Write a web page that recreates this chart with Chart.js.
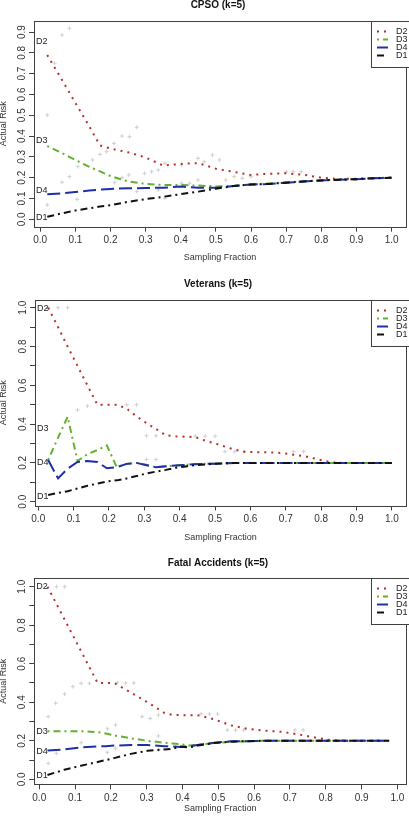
<!DOCTYPE html>
<html>
<head>
<meta charset="utf-8">
<script src="https://cdn.jsdelivr.net/npm/chart.js@4.4.1/dist/chart.umd.min.js"></script>
<style>
  html, body { margin: 0; padding: 0; background: #fff; width: 409px; height: 820px; overflow: hidden; }
  canvas { position: absolute; left: 0; }
</style>
</head>
<body>
<canvas id="cpso" width="411" height="270" style="top:0px"></canvas>
<canvas id="vet" width="411" height="275" style="top:270px"></canvas>
<canvas id="fatal" width="411" height="280" style="top:540px"></canvas>
<script>
// values: sampling fraction vs actual risk
const xTicks = [0, 0.1, 0.2, 0.3, 0.4, 0.5, 0.6, 0.7, 0.8, 0.9, 1.0];
const xTickLabels = ["0.0", "0.1", "0.2", "0.3", "0.4", "0.5", "0.6", "0.7", "0.8", "0.9", "1.0"];
const yTicks = [0, 0.1, 0.2, 0.3, 0.4, 0.5, 0.6, 0.7, 0.8, 0.9, 1.0];
const cpsoYLabels = ["0.0", "0.1", "0.2", "0.3", "0.4", "0.5", "0.6", "0.7", "0.8", "0.9"];
const wideYLabels = ["0.0", "", "0.2", "", "0.4", "", "0.6", "", "0.8", "", "1.0"];
const seriesNames = ["D2", "D3", "D4", "D1"];

// CPSO (k=5)
const cpsoX  = [0.02, 0.06, 0.10, 0.14, 0.17, 0.20, 0.25, 0.30, 0.35, 0.40, 0.45, 0.50, 0.55, 0.60, 0.65, 0.70, 0.75, 0.80, 0.85, 0.90, 0.95, 1.00];
const cpsoD2 = [0.79, 0.675, 0.56, 0.445, 0.355, 0.34, 0.322, 0.297, 0.258, 0.266, 0.27, 0.243, 0.228, 0.213, 0.219, 0.221, 0.214, 0.2, 0.194, 0.195, 0.198, 0.2];
const cpsoD3 = [0.352, 0.32, 0.285, 0.252, 0.23, 0.208, 0.182, 0.17, 0.165, 0.165, 0.162, 0.158, 0.16, 0.168, 0.172, 0.178, 0.183, 0.188, 0.19, 0.193, 0.197, 0.2];
const cpsoD4 = [0.12, 0.124, 0.131, 0.138, 0.143, 0.146, 0.149, 0.15, 0.152, 0.157, 0.152, 0.151, 0.16, 0.167, 0.17, 0.176, 0.182, 0.187, 0.19, 0.193, 0.197, 0.2];
const cpsoD1 = [0.012, 0.028, 0.042, 0.053, 0.061, 0.068, 0.084, 0.097, 0.108, 0.121, 0.133, 0.147, 0.16, 0.167, 0.17, 0.176, 0.182, 0.187, 0.19, 0.193, 0.197, 0.2];
const cpsoGrayX = [0.02, 0.041, 0.062, 0.083, 0.02, 0.062, 0.083, 0.107, 0.149, 0.17, 0.189, 0.21, 0.233, 0.254, 0.275, 0.105, 0.212, 0.233, 0.252, 0.275, 0.297, 0.317, 0.336, 0.336, 0.355, 0.355, 0.402, 0.402, 0.425, 0.449, 0.449, 0.467, 0.49, 0.51, 0.528, 0.552, 0.575, 0.6, 0.701, 0.72, 0.743];
const cpsoGrayY = [0.501, 0.75, 0.886, 0.918, 0.069, 0.178, 0.205, 0.253, 0.285, 0.312, 0.325, 0.365, 0.4, 0.397, 0.442, 0.096, 0.176, 0.2, 0.213, 0.133, 0.221, 0.229, 0.237, 0.141, 0.101, 0.269, 0.261, 0.173, 0.173, 0.293, 0.189, 0.277, 0.309, 0.285, 0.189, 0.205, 0.197, 0.205, 0.229, 0.229, 0.229];

// Veterans (k=5)
const vetX  = [0.028, 0.056, 0.083, 0.111, 0.139, 0.167, 0.194, 0.222, 0.25, 0.278, 0.306, 0.333, 0.361, 0.389, 0.417, 0.444, 0.472, 0.5, 0.528, 0.556, 0.583, 0.611, 0.639, 0.667, 0.694, 0.722, 0.75, 0.778, 0.806, 0.833, 0.861, 0.889, 0.917, 0.944, 0.972, 1.0];
const vetD2 = [1.0, 0.9, 0.8, 0.7, 0.6, 0.5, 0.5, 0.5, 0.48, 0.44, 0.405, 0.375, 0.342, 0.337, 0.335, 0.333, 0.315, 0.3, 0.284, 0.268, 0.258, 0.255, 0.255, 0.253, 0.25, 0.242, 0.236, 0.224, 0.212, 0.202, 0.2, 0.2, 0.2, 0.2, 0.2, 0.2];
const vetD3 = [0.215, 0.33, 0.438, 0.21, 0.245, 0.266, 0.29, 0.178, 0.195, 0.2, 0.19, 0.178, 0.183, 0.187, 0.19, 0.194, 0.195, 0.196, 0.198, 0.2, 0.2, 0.2, 0.2, 0.2, 0.2, 0.2, 0.2, 0.2, 0.2, 0.2, 0.2, 0.2, 0.2, 0.2, 0.2, 0.2];
const vetD4 = [0.215, 0.12, 0.17, 0.205, 0.21, 0.205, 0.172, 0.178, 0.195, 0.2, 0.188, 0.177, 0.183, 0.186, 0.19, 0.193, 0.195, 0.196, 0.198, 0.2, 0.2, 0.2, 0.2, 0.2, 0.2, 0.2, 0.2, 0.2, 0.2, 0.2, 0.2, 0.2, 0.2, 0.2, 0.2, 0.2];
const vetD1 = [0.035, 0.045, 0.054, 0.068, 0.082, 0.093, 0.104, 0.11, 0.12, 0.132, 0.146, 0.155, 0.164, 0.175, 0.182, 0.188, 0.192, 0.195, 0.198, 0.2, 0.2, 0.2, 0.2, 0.2, 0.2, 0.2, 0.2, 0.2, 0.2, 0.2, 0.2, 0.2, 0.2, 0.2, 0.2, 0.2];
const vetGrayX = [0.028, 0.056, 0.083, 0.111, 0.139, 0.25, 0.278, 0.306, 0.333, 0.306, 0.333, 0.444, 0.472, 0.5, 0.528, 0.556, 0.583, 0.722, 0.75];
const vetGrayY = [1.0, 1.0, 1.0, 0.473, 0.493, 0.5, 0.5, 0.34, 0.34, 0.218, 0.218, 0.338, 0.338, 0.338, 0.258, 0.258, 0.258, 0.258, 0.258];

// Fatal Accidents (k=5)
const fatalX  = [0.023, 0.07, 0.116, 0.163, 0.186, 0.209, 0.256, 0.302, 0.349, 0.372, 0.395, 0.419, 0.442, 0.488, 0.535, 0.581, 0.628, 0.674, 0.721, 0.767, 0.814, 0.86, 0.907, 0.953, 0.977];
const fatalD2 = [1.0, 0.832, 0.668, 0.5, 0.5, 0.5, 0.45, 0.4, 0.345, 0.334, 0.333, 0.333, 0.333, 0.312, 0.28, 0.262, 0.253, 0.247, 0.234, 0.218, 0.203, 0.2, 0.2, 0.2, 0.2];
const fatalD3 = [0.25, 0.25, 0.25, 0.245, 0.238, 0.228, 0.213, 0.2, 0.19, 0.186, 0.182, 0.176, 0.178, 0.188, 0.195, 0.198, 0.2, 0.2, 0.2, 0.2, 0.2, 0.2, 0.2, 0.2, 0.2];
const fatalD4 = [0.149, 0.155, 0.165, 0.171, 0.172, 0.175, 0.178, 0.178, 0.172, 0.17, 0.168, 0.172, 0.178, 0.19, 0.197, 0.198, 0.2, 0.2, 0.2, 0.2, 0.2, 0.2, 0.2, 0.2, 0.2];
const fatalD1 = [0.022, 0.05, 0.07, 0.09, 0.1, 0.11, 0.132, 0.148, 0.155, 0.158, 0.17, 0.165, 0.175, 0.188, 0.195, 0.198, 0.2, 0.2, 0.2, 0.2, 0.2, 0.2, 0.2, 0.2, 0.2];
const fatalGrayX = [0.048, 0.071, 0.025, 0.046, 0.071, 0.094, 0.117, 0.14, 0.218, 0.241, 0.264, 0.287, 0.31, 0.333, 0.452, 0.475, 0.498, 0.525, 0.548, 0.571, 0.714, 0.737, 0.025, 0.048, 0.117, 0.19, 0.19, 0.213, 0.213, 0.333, 0.333];
const fatalGrayY = [1.0, 1.0, 0.325, 0.395, 0.443, 0.481, 0.498, 0.498, 0.502, 0.5, 0.5, 0.325, 0.316, 0.334, 0.339, 0.339, 0.339, 0.256, 0.256, 0.256, 0.256, 0.256, 0.083, 0.135, 0.19, 0.14, 0.262, 0.161, 0.282, 0.225, 0.152];

const FONT = '"Liberation Sans", Arial, Helvetica, sans-serif';
const styles = [
  { color: "#b3302a", dash: [2, 5] },        // D2 dotted
  { color: "#63b030", dash: [2, 4, 7, 4] },  // D3 dot-dash
  { color: "#1f2fa8", dash: [13, 5] },       // D4 long dash
  { color: "#111111", dash: [7, 4, 2, 4] }   // D1 dash-dot
];

// frame box, main title, D-tags next to the lines, legend box
const framePlugin = {
  id: "frame",
  afterDraw(chart, args, opts) {
    const { ctx, chartArea: a, scales } = chart;
    ctx.save();
    ctx.strokeStyle = "#404040";
    ctx.lineWidth = 1;
    ctx.strokeRect(Math.round(a.left) + 0.5, Math.round(a.top) + 0.5,
      Math.round(a.right) - Math.round(a.left), Math.round(a.bottom) - Math.round(a.top));

    ctx.fillStyle = "#111";
    ctx.font = "bold 10px " + FONT;
    ctx.textAlign = "center";
    ctx.textBaseline = "middle";
    ctx.fillText(opts.title, opts.titleX, opts.titleY);

    ctx.font = "9px " + FONT;
    ctx.textAlign = "left";
    ctx.fillStyle = "#222";
    opts.tags.forEach((v, i) => {
      ctx.fillText(seriesNames[i], a.left + 2, scales.y.getPixelForValue(v));
    });

    // legend
    const lx = 371, ly = Math.round(a.top) + 0.5;
    ctx.fillStyle = "#fff";
    ctx.fillRect(lx, ly, 60, 46);
    ctx.strokeStyle = "#404040";
    ctx.strokeRect(lx + 0.5, ly, 60, 46);
    chart.data.datasets.slice(0, 4).forEach((ds, i) => {
      const ry = ly + 10 + i * 8;
      ctx.strokeStyle = ds.borderColor;
      ctx.lineWidth = 2;
      ctx.setLineDash(ds.borderDash);
      ctx.beginPath();
      ctx.moveTo(377, ry);
      ctx.lineTo(388, ry);
      ctx.stroke();
      ctx.setLineDash([]);
      ctx.fillStyle = "#222";
      ctx.fillText(ds.label, 396, ry);
    });
    ctx.restore();
  }
};

function makePanel(id, p) {
  const lines = [p.d2, p.d3, p.d4, p.d1].map((vals, i) => ({
    label: seriesNames[i],
    data: p.xs.map((x, j) => ({ x: x, y: vals[j] })),
    showLine: true,
    borderColor: styles[i].color,
    borderDash: styles[i].dash,
    borderWidth: 2,
    pointRadius: 0,
    tension: 0,
    order: 4 - i
  }));
  const gray = {
    label: "samples",
    data: p.gx.map((x, j) => ({ x: x, y: p.gy[j] })),
    showLine: false,
    pointStyle: "cross",
    pointRadius: 2,
    borderColor: "#cfcfcf",
    borderWidth: 1,
    order: 10
  };

  new Chart(document.getElementById(id), {
    type: "scatter",
    data: { datasets: lines.concat([gray]) },
    options: {
      responsive: false,
      animation: false,
      devicePixelRatio: 1,
      layout: { padding: { top: p.padTop, left: 0, right: 0, bottom: 0 } },
      plugins: {
        legend: { display: false },
        tooltip: { enabled: false },
        frame: { title: p.title, titleX: 218, titleY: p.titleY, tags: p.tags }
      },
      scales: {
        x: {
          type: "linear",
          min: p.xMin, max: p.xMax,
          afterFit: (s) => { s.height = p.xAxisH; },
          afterBuildTicks: (s) => { s.ticks = xTicks.map(v => ({ value: v })); },
          ticks: {
            callback: (v, i) => xTickLabels[i],
            autoSkip: false, maxRotation: 0, padding: 2.5,
            color: "#333", font: { family: FONT, size: 10 }
          },
          grid: { drawOnChartArea: false, drawTicks: true, tickLength: 5, color: "#404040" },
          border: { display: false },
          title: {
            display: true, text: "Sampling Fraction", color: "#333",
            font: { family: FONT, size: 9 }, padding: { top: 0, bottom: p.xTitlePad }
          }
        },
        y: {
          type: "linear",
          min: p.yMin, max: p.yMax,
          afterFit: (s) => { s.width = p.leftW; },
          afterBuildTicks: (s) => { s.ticks = yTicks.slice(0, p.yLabels.length).map(v => ({ value: v })); },
          ticks: {
            callback: (v, i) => p.yLabels[i],
            autoSkip: false, minRotation: 90, maxRotation: 90, crossAlign: "center", padding: 0,
            color: "#333", font: { family: FONT, size: 10 }
          },
          grid: { drawOnChartArea: false, drawTicks: true, tickLength: 5, color: "#404040" },
          border: { display: false },
          title: {
            display: true, text: "Actual Risk", color: "#333",
            font: { family: FONT, size: 9 }, padding: { top: -2, bottom: 0 }
          }
        }
      }
    },
    plugins: [framePlugin]
  });
}

makePanel("cpso", {
  title: "CPSO (k=5)", titleY: 5,
  xs: cpsoX, d2: cpsoD2, d3: cpsoD3, d4: cpsoD4, d1: cpsoD1, gx: cpsoGrayX, gy: cpsoGrayY,
  tags: [0.854, 0.378, 0.1375, 0.008],
  padTop: 21, leftW: 34, xAxisH: 43.3, xTitlePad: 6.9,
  xMin: -0.0177, xMax: 1.041, yMin: -0.0356, yMax: 0.953, yLabels: cpsoYLabels
});
makePanel("vet", {
  title: "Veterans (k=5)", titleY: 14,
  xs: vetX, d2: vetD2, d3: vetD3, d4: vetD4, d1: vetD1, gx: vetGrayX, gy: vetGrayY,
  tags: [0.998, 0.376, 0.2, 0.026],
  padTop: 30, leftW: 35, xAxisH: 39.5, xTitlePad: 1.6,
  xMin: -0.0092, xMax: 1.04, yMin: -0.0196, yMax: 1.0397, yLabels: wideYLabels
});
makePanel("fatal", {
  title: "Fatal Accidents (k=5)", titleY: 23.3,
  xs: fatalX, d2: fatalD2, d3: fatalD3, d4: fatalD4, d1: fatalD1, gx: fatalGrayX, gy: fatalGrayY,
  tags: [1.0, 0.25, 0.146, 0.02],
  padTop: 38.3, leftW: 34.3, xAxisH: 35.7, xTitlePad: 5.6,
  xMin: -0.0138, xMax: 1.024, yMin: -0.026, yMax: 1.0436, yLabels: wideYLabels
});
</script>
</body>
</html>
